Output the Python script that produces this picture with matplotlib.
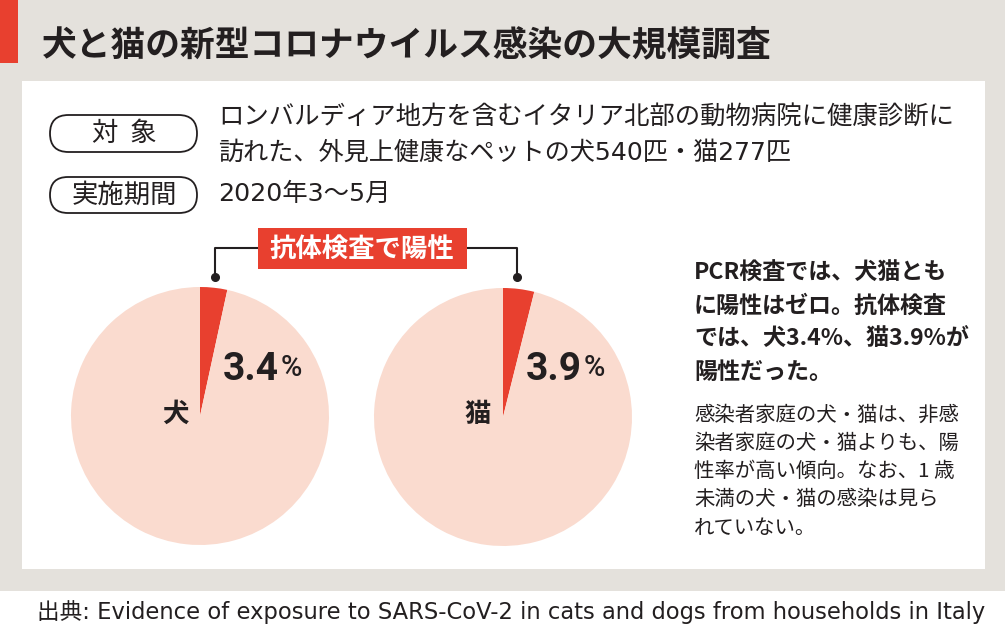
import matplotlib
matplotlib.use("Agg")
import matplotlib.pyplot as plt
from matplotlib.patches import Rectangle, FancyBboxPatch

plt.rcParams['font.family'] = ['Noto Sans CJK JP', 'DejaVu Sans']

# ---- data ----
title = "犬と猫の新型コロナウイルス感染の大規模調査"
label_target = "対  象"
label_period = "実施期間"
target_lines = ["ロンバルディア地方を含むイタリア北部の動物病院に健康診断に",
                "訪れた、外見上健康なペットの犬540匹・猫277匹"]
period_text = "2020年3〜5月"
badge_text = "抗体検査で陽性"
animals = ["犬", "猫"]
positive_pct = [3.4, 3.9]
pct_labels = ["3.4", "3.9"]
main_note = ["PCR検査では、犬猫とも", "に陽性はゼロ。抗体検査", "では、犬3.4%、猫3.9%が", "陽性だった。"]
sub_note = ["感染者家庭の犬・猫は、非感", "染者家庭の犬・猫よりも、陽", "性率が高い傾向。なお、1 歳",
            "未満の犬・猫の感染は見ら", "れていない。"]
source = "出典: Evidence of exposure to SARS-CoV-2 in cats and dogs from households in Italy"

# ---- styles ----
W, H = 1005, 634
BG = "#e4e1dc"
RED = "#e8402f"
PINK = "#fadbcf"
DARK = "#231f20"
CJK = ['Noto Sans CJK JP', 'DejaVu Sans']
DIGIT_CJK = ['DejaVu Sans', 'Noto Sans CJK JP']


def Y(p):
    return H - p


fig = plt.figure(figsize=(W / 100, H / 100), dpi=100)
ax = fig.add_axes([0, 0, 1, 1])
ax.set_xlim(0, W)
ax.set_ylim(0, H)
ax.axis('off')

# backgrounds
ax.add_patch(Rectangle((0, Y(591)), W, 591, facecolor=BG, edgecolor='none', zorder=0))
ax.add_patch(Rectangle((0, 0), W, Y(591), facecolor='white', edgecolor='none', zorder=0))
ax.add_patch(Rectangle((22, Y(569)), 963, 569 - 81, facecolor='white', edgecolor='none', zorder=0.5))
ax.add_patch(Rectangle((0, Y(63)), 18, 63, facecolor=RED, edgecolor='none', zorder=1))

# title
ax.text(42, Y(45), title, fontsize=25, fontweight='bold', color=DARK, va='center', ha='left')

# pills
for (y0, y1, lab) in [(115, 152, label_target), (177, 213, label_period)]:
    h = y1 - y0
    ax.add_patch(FancyBboxPatch((50, Y(y1)), 147, h,
                                boxstyle=f"round,pad=0,rounding_size={h/2}",
                                facecolor='white', edgecolor=DARK, linewidth=1.3, zorder=2))
    ax.text(124, Y((y0 + y1) / 2), lab, fontsize=19, color=DARK, ha='center', va='center', zorder=3)

ax.text(218, Y(118), target_lines[0], fontsize=18.3, color=DARK, ha='left', va='center')
ax.text(218, Y(153), target_lines[1], fontsize=18.1, color=DARK, ha='left', va='center',
        family=DIGIT_CJK)
ax.text(218, Y(194), period_text, fontsize=18.3, color=DARK, ha='left', va='center',
        family=DIGIT_CJK)

# pies
centers = [(200, 416), (503, 417)]
R = 129
for (cx, cy), pct in zip(centers, positive_pct):
    ax.pie([pct, 100 - pct], colors=[RED, PINK], startangle=90, counterclock=False,
           center=(cx, Y(cy)), radius=R, frame=True,
           wedgeprops=dict(linewidth=0, edgecolor='none'))

ax.set_xlim(0, W)
ax.set_ylim(0, H)
ax.set_aspect('auto')
ax.axis('off')

# pie labels
ax.text(175, Y(414), animals[0], fontsize=19, fontweight='bold', color=DARK, ha='center', va='center')
ax.text(478, Y(414), animals[1], fontsize=19, fontweight='bold', color=DARK, ha='center', va='center')
pct_pos = [(223, 369), (526, 369)]
for (x, y), s in zip(pct_pos, pct_labels):
    t = ax.text(x, Y(y), s, fontsize=28, fontweight='bold', color=DARK, ha='left', va='center',
                family=['Roboto', 'DejaVu Sans'])
    fig.canvas.draw()
    bb = t.get_window_extent()
    ax.text(bb.x1 + 2, Y(y) + 1, "%", fontsize=21, fontweight='medium', color=DARK, ha='left',
            va='center', family=['Roboto', 'DejaVu Sans'])

# bracket
lx, rx = 215, 517
ax.plot([lx, lx, 260], [Y(277), Y(248), Y(248)], color=DARK, lw=1.5, zorder=3)
ax.plot([465, rx, rx], [Y(248), Y(248), Y(277)], color=DARK, lw=1.5, zorder=3)
ax.plot([lx, rx], [Y(277), Y(277)], 'o', color=DARK, ms=5.5, zorder=4)
ax.add_patch(Rectangle((258, Y(269)), 209, 41, facecolor=RED, edgecolor='none', zorder=4))
ax.text(362, Y(249), badge_text, fontsize=19, fontweight='bold', color='white',
        ha='center', va='center', zorder=5)

# right notes
for i, line in enumerate(main_note):
    ax.text(694, Y(273 + i * 33.2), line, fontsize=16.6, fontweight='bold', color=DARK,
            ha='left', va='center')
for i, line in enumerate(sub_note):
    ax.text(694, Y(415 + i * 28.3), line, fontsize=14.7, color=DARK, ha='left', va='center')

# source (fit to the reference width)
src = ax.text(37, Y(612), source, fontsize=15, color=DARK, ha='left', va='center',
              family=['DejaVu Sans', 'Noto Sans CJK JP'])
fig.canvas.draw()
w = src.get_window_extent().width
src.set_fontsize(15 * (985 - 37) / w)

fig.savefig("out.png", dpi=100)
